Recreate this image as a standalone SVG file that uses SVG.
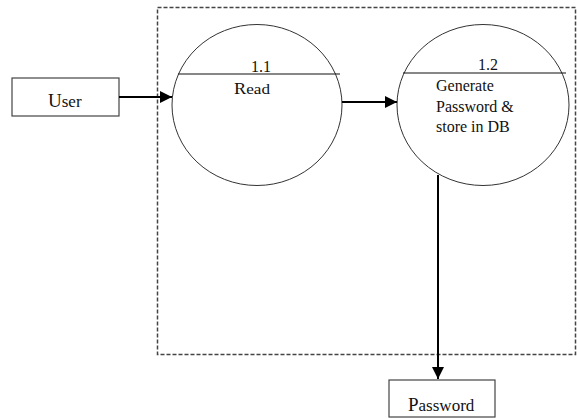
<svg xmlns="http://www.w3.org/2000/svg" width="577" height="418" viewBox="0 0 577 418">
<defs>
<style>
text{font-family:"Liberation Serif","Times New Roman",serif;fill:#111}
.box{fill:#fff;stroke:#444;stroke-width:1.2}
.proc{fill:#fff;stroke:#333;stroke-width:1}
.div{stroke:#111;stroke-width:1.2}
.flow{stroke:#000;stroke-width:2;fill:none;marker-end:url(#ah)}
.bound{fill:none;stroke:#444;stroke-width:1.5;stroke-dasharray:4 2}
</style>
<marker id="ah" viewBox="0 0 10 10" refX="10" refY="5" markerWidth="6.5" markerHeight="6" markerUnits="strokeWidth" orient="auto">
<path d="M0,0 L10,5 L0,10 z" fill="#000"/>
</marker>
</defs>
<rect id="boundary" class="bound" x="157.5" y="7.5" width="418" height="347"/>
<g font-family="Liberation Serif, serif">
<g id="user">
<rect class="box" x="12" y="78" width="107" height="38"/>
<text x="48" y="107"><tspan font-size="19">U</tspan><tspan font-size="17">ser</tspan></text>
</g>
<g id="p1">
<ellipse class="proc" cx="257" cy="105" rx="85" ry="80.5"/>
<line class="div" x1="178" y1="74" x2="340" y2="74"/>
<text x="261" y="72" font-size="16" text-anchor="middle">1.1</text>
<text x="234" y="94" textLength="36" lengthAdjust="spacingAndGlyphs"><tspan font-size="16">R</tspan><tspan font-size="15">ead</tspan></text>
</g>
<g id="p2">
<ellipse class="proc" cx="483" cy="105" rx="86" ry="80.5"/>
<line class="div" x1="403" y1="73" x2="566" y2="73"/>
<text x="488" y="70" font-size="16" text-anchor="middle">1.2</text>
<text x="436" y="91" font-size="16">Generate</text>
<text x="436" y="112" font-size="16">Password &amp;</text>
<text x="436" y="132" font-size="16">store in DB</text>
</g>
<g id="password">
<rect class="box" x="389" y="380" width="106" height="37"/>
<text x="408" y="411"><tspan font-size="19">P</tspan><tspan font-size="17">assword</tspan></text>
</g>
</g>
<g id="connectors">
<line class="flow" x1="119" y1="97" x2="172" y2="97"/>
<line class="flow" x1="342" y1="102" x2="397" y2="102"/>
<line class="flow" x1="438" y1="175" x2="438" y2="379"/>
</g>
</svg>
